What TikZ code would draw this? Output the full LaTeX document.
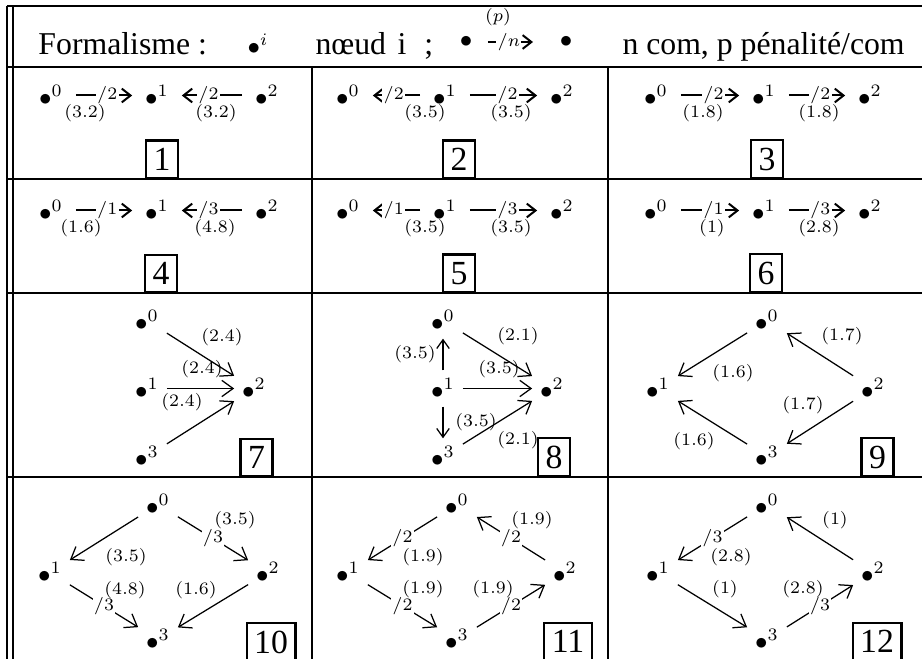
\documentclass[tikz,border=0pt]{standalone}
\usepackage[no-math]{fontspec}
\setmainfont{Liberation Serif}
\usetikzlibrary{arrows.meta}

\begin{document}
\begin{tikzpicture}[x=0.4pt,y=-0.4pt,
  every node/.style={inner sep=0pt},
  txt/.style={anchor=base west,font=\fontsize{12.7}{15}\selectfont},
  bnode/.style={inner sep=3pt,font=\fontsize{10.3}{12}\selectfont},
  lab/.style={font=\fontsize{7.3}{8}\selectfont},
  cut/.style={fill=white,inner sep=0.5pt,font=\fontsize{7.3}{8}\selectfont},
  num/.style={draw,line width=0.9pt,inner sep=3pt,font=\fontsize{13.5}{15}\selectfont},
  rule/.style={line width=0.9pt},
  har/.style={line width=0.8pt,-{Straight Barb[length=3.5pt,width=5.5pt]},shorten <=2pt,shorten >=2pt},
  ar/.style={line width=0.5pt,-{Straight Barb[length=4.5pt,width=6.5pt]}},
  var/.style={line width=1.1pt,-{Straight Barb[length=3.5pt,width=5pt,line width=0.5pt]}}]
\useasboundingbox (0,0) rectangle (922,659);
% table rules
\foreach \y in {6,67,179,293,477} \draw[rule] (7,\y) -- (922,\y);
\foreach \x in {7,13} \draw[rule] (\x,6) -- (\x,670);
\foreach \x in {312,608} \draw[rule] (\x,67) -- (\x,670);
% header
\node[txt] (hf) at (38,55) {Formalisme :};
\node[anchor=base west,font=\fontsize{10.3}{12}\selectfont] (hi) at (247,55) {$\bullet^{i}$};
\node[txt] (hn) at (315,55) {nœud\hspace{1.5pt} i\hspace{4pt} ;};
\node[bnode] (hx) at (466,42) {$\bullet$};
\node[bnode] (hy) at (566,42) {$\bullet$};
\draw[har,shorten <=3pt,shorten >=7.5pt] (hx) -- node[cut,pos=.4] (hm) {$/n$} (hy);
\node[lab] (hp) at (498,17) {$(p)$};
\node[txt] (hc) at (622,55) {n com, p pénalité/com};
% rows 1 and 2: chains
\foreach \i/\x in {0/51,1/157,2/267} {
  \node[bnode] (d1-\i) at (\x,95.5) {$\bullet^{\i}$};
  \node[bnode] (d4-\i) at (\x,210.5) {$\bullet^{\i}$};
}
\foreach \i/\x in {0/348,1/445,2/562} {
  \node[bnode] (d2-\i) at (\x,95.5) {$\bullet^{\i}$};
  \node[bnode] (d5-\i) at (\x,210.5) {$\bullet^{\i}$};
}
\foreach \i/\x in {0/656,1/764,2/870} {
  \node[bnode] (d3-\i) at (\x,95.5) {$\bullet^{\i}$};
  \node[bnode] (d6-\i) at (\x,210.5) {$\bullet^{\i}$};
}
\foreach \s/\t/\n/\p/\x/\y [count=\k] in {
  d1-0/d1-1/2/3.2/85/113, d1-2/d1-1/2/3.2/216/113,
  d2-1/d2-0/2/3.5/425/113, d2-1/d2-2/2/3.5/511/113,
  d3-0/d3-1/2/1.8/703/113, d3-1/d3-2/2/1.8/819/113,
  d4-0/d4-1/1/1.6/81/228, d4-2/d4-1/3/4.8/215/228,
  d5-1/d5-0/1/3.5/425/228, d5-1/d5-2/3/3.5/511/228,
  d6-0/d6-1/1/1/712/228, d6-1/d6-2/3/2.8/819/228} {
  \draw[har] (\s) -- node[cut,pos=.55] (m\k) {$/\n$} (\t);
  \node[lab] (w\k) at (\x,\y) {$(\p)$};
}
% rows 3 and 4: graphs
\foreach \i/\x/\y in {0/147/320.5,1/147/388.5,2/254/388.5,3/147/456.5}
  \node[bnode] (d7-\i) at (\x,\y) {$\bullet^{\i}$};
\foreach \i/\x/\y in {0/443/320.5,1/443/388.5,2/552/388.5,3/443/456.5}
  \node[bnode] (d8-\i) at (\x,\y) {$\bullet^{\i}$};
\foreach \i/\x/\y in {0/767/320.5,1/658/388.5,2/873/388.5,3/767/456.5}
  \node[bnode] (d9-\i) at (\x,\y) {$\bullet^{\i}$};
\foreach \i/\x/\y in {0/158/504.5,1/50/572.5,2/268/572.5,3/158/639.5}
  \node[bnode] (d10-\i) at (\x,\y) {$\bullet^{\i}$};
\foreach \i/\x/\y in {0/457/504.5,1/348/572.5,2/565/572.5,3/457/639.5}
  \node[bnode] (d11-\i) at (\x,\y) {$\bullet^{\i}$};
\foreach \i/\x/\y in {0/767/504.5,1/658/572.5,2/873/572.5,3/767/639.5}
  \node[bnode] (d12-\i) at (\x,\y) {$\bullet^{\i}$};
% plain edges
\foreach \s/\t in {d7-0/d7-2,d7-1/d7-2,d7-3/d7-2,d8-0/d8-2,d8-1/d8-2,d8-3/d8-2,
  d9-0/d9-1,d9-2/d9-0,d9-2/d9-3,d9-3/d9-1,d10-0/d10-1,d10-2/d10-3,
  d12-2/d12-0,d12-1/d12-3}
  \draw[ar] (\s) -- (\t);
\draw[var] (d8-1) -- (d8-0);
\draw[var] (d8-1) -- (d8-3);
% edges with /n
\foreach \s/\t/\n [count=\k] in {d10-0/d10-2/3,d10-1/d10-3/3,d11-0/d11-1/2,d11-2/d11-0/2,
  d11-1/d11-3/2,d11-3/d11-2/2,d12-0/d12-1/3,d12-3/d12-2/3}
  \draw[ar] (\s) -- node[cut,pos=.5] (c\k) {$/\n$} (\t);
% penalties
\foreach \p/\x/\y [count=\k] in {2.4/222/337,2.4/202/369,2.4/182/402,
  2.1/518/336,3.5/499/369,2.1/518/440,3.5/415/354,3.5/476/422,
  1.6/733/373,1.7/842/336,1.7/803/405,1.6/694/441,
  3.5/126/557,3.5/235/520,4.8/125/590,1.6/196/590,
  1.9/423/557,1.9/532/520,1.9/423/589,1.9/493/589,
  2.8/731/557,1/835/520,1/725/589,2.8/803/589}
  \node[lab] (q\k) at (\x,\y) {$(\p)$};
% case numbers
\foreach \n/\x/\y in {1/162/179,2/459/179,3/767/179,4/161/293,5/459/293,6/766/293,
  7/256.5/477,8/554/477,9/877.5/477}
  \node[num,anchor=south] (k\n) at (\x,\y) {\n};
\foreach \n/\x in {10/271,11/568,12/877}
  \node[num,anchor=north] (k\n) at (\x,622) {\n};
\end{tikzpicture}
\end{document}
